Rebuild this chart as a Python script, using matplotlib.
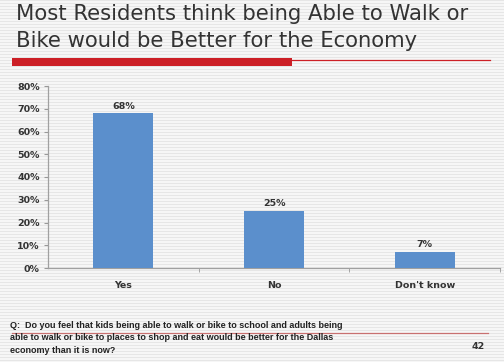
import matplotlib
matplotlib.use("Agg")
import matplotlib.pyplot as plt
from matplotlib.lines import Line2D
from matplotlib.patches import Rectangle

categories = ["Yes", "No", "Don't know"]
values = [68, 25, 7]
yticks = [0, 10, 20, 30, 40, 50, 60, 70, 80]
title_lines = ["Most Residents think being Able to Walk or",
               "Bike would be Better for the Economy"]
question = ["Q:  Do you feel that kids being able to walk or bike to school and adults being",
            "able to walk or bike to places to shop and eat would be better for the Dallas",
            "economy than it is now?"]
page_no = "42"

W, H = 504, 362
fig = plt.figure(figsize=(W / 100, H / 100), dpi=100)
fig.patch.set_facecolor("#f7f7f7")

# striped background
for yp in range(0, H, 3):
    fig.add_artist(Line2D([0, 1], [1 - yp / H, 1 - yp / H], transform=fig.transFigure,
                          color="#e6e6e6", lw=0.8, zorder=-10))

def fx(x):
    return x / W

def fy(y):
    return 1 - y / H

# title
fig.text(fx(16), fy(20), title_lines[0], fontsize=15.2, color="#333333",
         family="DejaVu Sans", va="baseline", ha="left")
fig.text(fx(16), fy(47), title_lines[1], fontsize=15.2, color="#333333",
         family="DejaVu Sans", va="baseline", ha="left")

# red bar under title
fig.add_artist(Rectangle((fx(12), fy(66)), fx(292) - fx(12), (66 - 58) / H,
                         transform=fig.transFigure, color="#cc1f26", lw=0))
fig.add_artist(Line2D([fx(290), fx(490)], [fy(59.5), fy(59.5)], transform=fig.transFigure,
                      color="#cc1f26", lw=0.9))

ax = fig.add_axes([fx(48), fy(268), fx(500) - fx(48), (268 - 86) / H])
ax.set_facecolor("none")
x = list(range(len(categories)))
ax.bar(x, values, width=0.4, color="#5b8fcc", zorder=3)
for xi, v in zip(x, values):
    ax.text(xi, v + 1.2, f"{v}%", ha="center", va="bottom", fontsize=6.8,
            fontweight="bold", color="#333333")

ax.set_xlim(-0.5, 2.5)
ax.set_ylim(0, 80)
ax.set_yticks(yticks)
ax.set_yticklabels([f"{t}%" for t in yticks], fontsize=6.8, fontweight="bold", color="#333333")
ax.set_xticks(x)
ax.set_xticklabels(categories, fontsize=6.8, fontweight="bold", color="#333333")
ax.tick_params(axis="x", length=0, pad=9)
ax.set_xticks([0.5, 1.5, 2.5], minor=True)
ax.tick_params(axis="x", which="minor", length=3, color="#999999", direction="out")
ax.tick_params(axis="y", length=3, color="#999999", pad=3)
for s in ["top", "right"]:
    ax.spines[s].set_visible(False)
for s in ["left", "bottom"]:
    ax.spines[s].set_color("#a0a0a0")
    ax.spines[s].set_linewidth(0.9)

# footer question
for i, line in enumerate(question):
    fig.text(fx(10), fy(328 + i * 12.5), line, fontsize=6.5, fontweight="bold",
             family="Liberation Sans", color="#222222", va="baseline", ha="left")
fig.add_artist(Line2D([fx(12), fx(488)], [fy(332.5), fy(332.5)], transform=fig.transFigure,
                      color="#c87070", lw=0.9))
fig.text(fx(478), fy(349), page_no, fontsize=6.8, fontweight="bold", color="#333333",
         va="baseline", ha="center")

fig.savefig("out.png", dpi=100, facecolor=fig.get_facecolor())
